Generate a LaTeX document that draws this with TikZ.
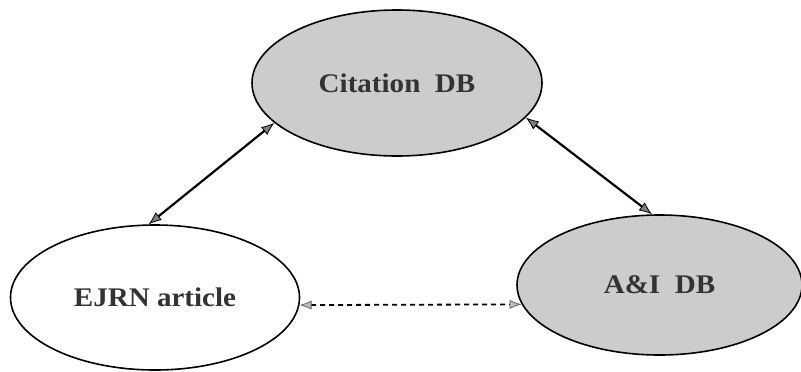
\documentclass[tikz,border=0pt]{standalone}
\usepackage{fontspec}
\setmainfont{Liberation Serif}
\usetikzlibrary{shapes.geometric,arrows.meta}
\tikzset{
  dbnode/.style={ellipse, draw=black, line width=1.6bp, inner sep=0pt, font=\bfseries\fontsize{27}{30}\selectfont, text=black!80},
  shaded/.style={fill=black!20},
  linktip/.style={Latex[length=13bp,width=10bp,fill=black!50,line width=0.8bp]},
  linkline/.style={line width=2.2bp, black, {Latex[length=13bp,width=10bp,fill=black!50,line width=0.8bp]}-{Latex[length=13bp,width=10bp,fill=black!50,line width=0.8bp]}},
  dashlink/.style={line width=1.8bp, black, dash pattern=on 5bp off 4bp, {Latex[length=12bp,width=9bp,fill=black!25,color=black!60,line width=0.8bp]}-{Latex[length=12bp,width=9bp,fill=black!25,color=black!60,line width=0.8bp]}}
}
\begin{document}
\begin{tikzpicture}[x=1bp,y=-1bp]
\useasboundingbox (0,0) rectangle (801,371);
\node[dbnode, shaded, minimum width=290bp, minimum height=146bp] (cit) at (397,83) {\scalebox{1.08}[1]{Citation\ \ DB}};
\node[dbnode, minimum width=289bp, minimum height=145bp] (ejrn) at (155,297.5) {\scalebox{1.08}[1]{EJRN article}};
\node[dbnode, shaded, minimum width=285bp, minimum height=140bp] (ai) at (659.5,285) {\scalebox{1.08}[1]{A\&I\ \ DB}};
\draw[linkline] (cit.198) -- (ejrn.95);
\draw[linkline] (cit.-15) -- (ai.96);
\draw[dashlink] (ejrn.-3.4) -- (ai.188);
\end{tikzpicture}
\end{document}
